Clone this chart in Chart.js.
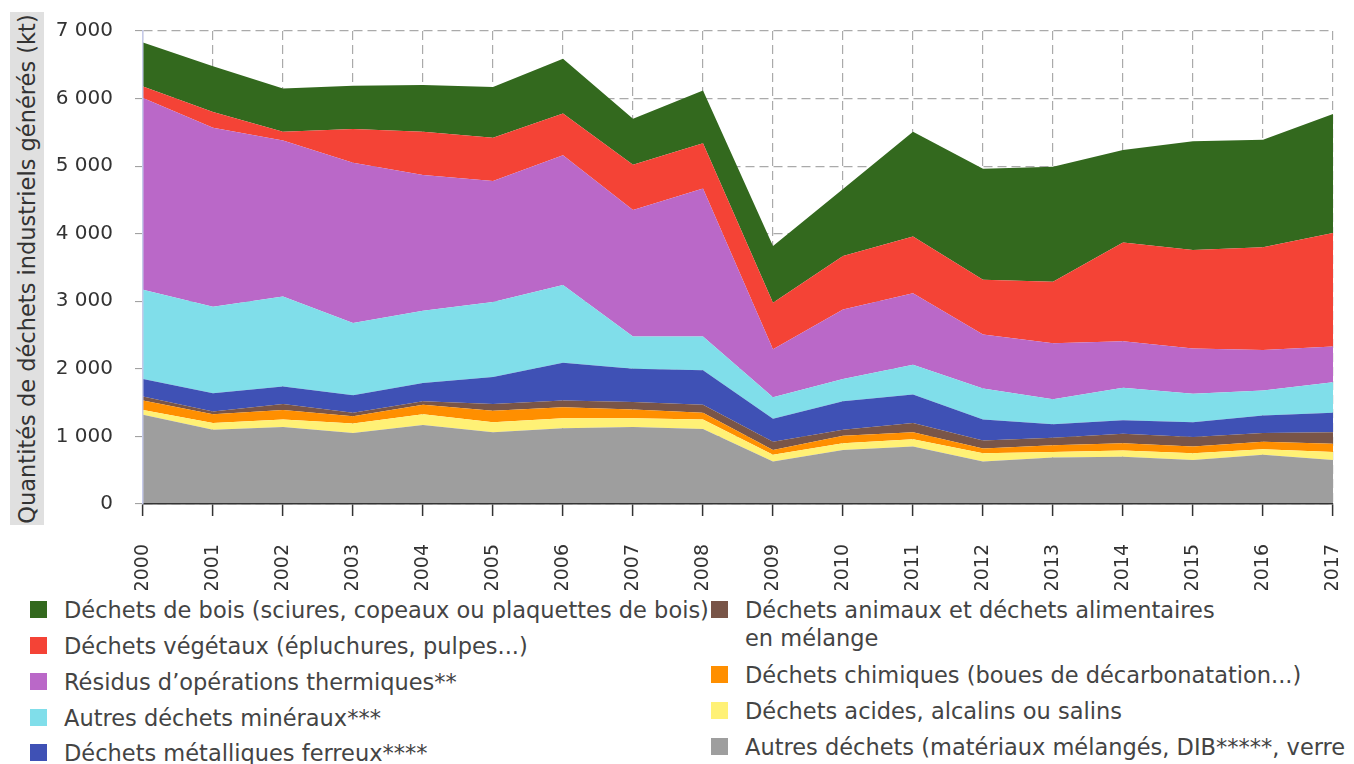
<!DOCTYPE html>
<html lang="fr">
<head>
<meta charset="utf-8">
<script src="https://cdn.jsdelivr.net/npm/chart.js@4/dist/chart.umd.min.js"></script>
<style>
  html, body { margin: 0; padding: 0; background: #fff; }
  body { width: 1354px; height: 764px; overflow: hidden; position: relative; font-family: "DejaVu Sans", sans-serif; }
  #wrap { position: absolute; left: 0; top: 0; width: 1354px; height: 590px; }
  #ytitle {
    position: absolute; left: 10px; top: 12px; width: 34px; height: 513px;
    background: #e0e0e0;
  }
  #ytitle span {
    position: absolute; left: 50%; top: 50%;
    transform: translate(-50%, -50%) rotate(-90deg);
    white-space: nowrap; font-size: 22.5px; color: #333;
  }
  .lg { position: absolute; font-size: 22.5px; color: #444; line-height: 28px; white-space: nowrap; }
  .sw { position: absolute; width: 17px; height: 17px; }
</style>
</head>
<body>
<div id="ytitle"><span>Quantités de déchets industriels générés (kt)</span></div>
<div id="wrap"><canvas id="c" width="1354" height="590"></canvas></div>
<div id="legend"></div>
<script>
const years = ['2000','2001','2002','2003','2004','2005','2006','2007','2008','2009','2010','2011','2012','2013','2014','2015','2016','2017'];

// values in kt, bottom to top of the stack
const autresDechets     = [1320,1100,1140,1050,1170,1060,1120,1140,1110, 630, 800, 850, 630, 690, 700, 650, 730, 650];
const acidesAlcalins    = [  70, 100, 110, 140, 160, 150, 150, 130, 140, 100, 100, 110, 120,  80,  90, 100,  80, 120];
const chimiques         = [ 140, 130, 140, 110, 140, 170, 160, 130, 100,  70, 110, 100,  70, 100, 110, 100, 110, 120];
const animauxAliment    = [  60,  40,  90,  50,  50, 100, 100, 110, 120, 120,  90, 140, 120, 110, 140, 140, 130, 170];
const metalFerreux      = [ 260, 270, 260, 260, 270, 400, 560, 490, 510, 340, 420, 420, 310, 200, 200, 220, 260, 290];
const autresMineraux    = [1320,1280,1330,1070,1070,1110,1150, 480, 500, 320, 330, 440, 460, 370, 480, 420, 370, 450];
const residusThermiques = [2840,2650,2310,2370,2010,1790,1920,1870,2190, 710,1030,1060, 800, 830, 690, 670, 600, 530];
const vegetaux          = [ 170, 230, 130, 500, 640, 640, 620, 670, 670, 690, 790, 840, 810, 910,1460,1460,1520,1680];
const bois              = [ 650, 680, 640, 640, 690, 750, 810, 680, 780, 840, 990,1550,1640,1700,1370,1610,1590,1760];

const yTicks = [0, 1000, 2000, 3000, 4000, 5000, 6000, 7000];

const series = [
  { key:'autres',  label:'Autres déchets (matériaux mélangés, DIB*****, verre', data: autresDechets,     color:'#9e9e9e' },
  { key:'acides',  label:'Déchets acides, alcalins ou salins',                 data: acidesAlcalins,    color:'#fff176' },
  { key:'chim',    label:'Déchets chimiques (boues de décarbonatation...)',   data: chimiques,         color:'#ff8f00' },
  { key:'anim',    label:'Déchets animaux et déchets alimentaires\nen mélange', data: animauxAliment,  color:'#795548' },
  { key:'metal',   label:'Déchets métalliques ferreux****',                    data: metalFerreux,      color:'#3f51b5' },
  { key:'mineral', label:'Autres déchets minéraux***',                         data: autresMineraux,    color:'#80deea' },
  { key:'thermo',  label:'Résidus d’opérations thermiques**',                  data: residusThermiques, color:'#ba68c8' },
  { key:'veg',     label:'Déchets végétaux (épluchures, pulpes...)',           data: vegetaux,          color:'#f44336' },
  { key:'bois',    label:'Déchets de bois (sciures, copeaux ou plaquettes de bois)', data: bois,        color:'#33691e' }
];

function fmt(v) {
  return String(v).replace(/\B(?=(\d{3})+(?!\d))/g, ' ');
}

const datasets = series.map((s, i) => ({
  label: s.label,
  data: s.data,
  backgroundColor: s.color,
  borderColor: s.color,
  borderWidth: 0,
  pointRadius: 0,
  pointHoverRadius: 0,
  tension: 0,
  fill: i === 0 ? 'origin' : '-1',
  stack: 'total'
}));

new Chart(document.getElementById('c'), {
  type: 'line',
  data: { labels: years, datasets },
  options: {
    responsive: false,
    animation: false,
    events: [],
    layout: { padding: { left: 0, top: 31, right: 21, bottom: 0 } },
    plugins: { legend: { display: false }, tooltip: { enabled: false } },
    scales: {
      x: {
        type: 'category',
        offset: false,
        grid: { color: '#aaaaaa', lineWidth: 1.2, tickLength: 12, tickColor: '#333', tickWidth: 1.5, tickBorderDash: [], offset: false },
        border: { display: true, color: '#333', width: 1.5, dash: [9, 5], z: 1 },
        ticks: { maxRotation: 90, minRotation: 90, padding: 28, color: '#333', font: { family: 'DejaVu Sans', size: 19 }, autoSkip: false },
        afterFit: (scale) => { scale.height = 86; scale.paddingLeft = 0; scale.paddingRight = 0; }
      },
      y: {
        stacked: true,
        min: 0, max: 7000,
        afterBuildTicks: (scale) => { scale.ticks = yTicks.map(v => ({ value: v })); },
        grid: { color: '#aaaaaa', lineWidth: 1.2, tickLength: 8, tickColor: '#999', tickWidth: 1, tickBorderDash: [] },
        border: { display: true, color: '#c5cae9', width: 1.5, dash: [9, 5], z: 1 },
        ticks: { padding: 22, color: '#333', font: { family: 'DejaVu Sans', size: 20 }, callback: (v) => fmt(v) },
        afterFit: (scale) => { scale.width = 143; scale.paddingTop = 0; scale.paddingBottom = 0; }
      }
    }
  }
});

// HTML legend (two columns, as in the reference)
const legendLayout = [
  { key:'bois',    sx:30,  tx:64,  y:610 },
  { key:'veg',     sx:30,  tx:64,  y:646 },
  { key:'thermo',  sx:30,  tx:64,  y:682 },
  { key:'mineral', sx:30,  tx:64,  y:718 },
  { key:'metal',   sx:30,  tx:64,  y:753 },
  { key:'anim',    sx:711, tx:745, y:610 },
  { key:'chim',    sx:711, tx:745, y:675 },
  { key:'acides',  sx:711, tx:745, y:711 },
  { key:'autres',  sx:711, tx:745, y:747 }
];
const lg = document.getElementById('legend');
legendLayout.forEach(item => {
  const s = series.find(x => x.key === item.key);
  const sw = document.createElement('div');
  sw.className = 'sw';
  sw.style.left = item.sx + 'px';
  sw.style.top = (item.y - 9) + 'px';
  sw.style.background = s.color;
  lg.appendChild(sw);
  const lines = s.label.split('\n');
  lines.forEach((ln, k) => {
    const t = document.createElement('div');
    t.className = 'lg';
    t.textContent = ln;
    t.style.left = item.tx + 'px';
    t.style.top = (item.y - 14 + k * 28) + 'px';
    lg.appendChild(t);
  });
});
</script>
</body>
</html>
